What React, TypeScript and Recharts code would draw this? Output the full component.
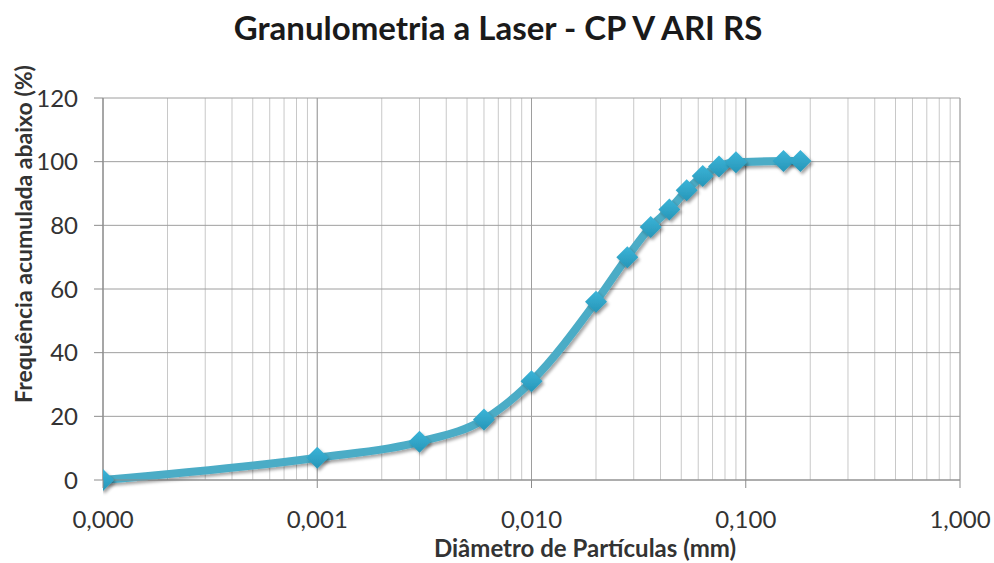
import React from 'react';
import {
  LineChart,
  Line,
  XAxis,
  YAxis,
  CartesianGrid,
  ReferenceLine,
  Label,
} from 'recharts';

const COLOR_LINE = '#4BACC6';
const COLOR_GRID_MINOR = '#C8C8C8';
const COLOR_GRID_MAJOR = '#9E9E9E';
const COLOR_AXIS = '#8C8C8C';
const COLOR_TEXT = '#333333';
const FONT = 'Lato, "Open Sans", sans-serif';

// particle diameter (mm) and cumulative passing (%)
const diameters = [
  0.0001, 0.001, 0.003, 0.006, 0.01, 0.02, 0.028, 0.036, 0.044, 0.053, 0.063,
  0.075, 0.09, 0.15, 0.18,
];
const cumulative = [0, 7, 12, 19, 31, 56, 70, 79.5, 85, 91, 95.5, 98.5, 99.8, 100.2, 100.2];

const decadeTicks = [0.0001, 0.001, 0.01, 0.1, 1];
const decadeLabels = ['0,000', '0,001', '0,010', '0,100', '1,000'];

// log grid (minor lines 2..9 in each decade)
const gridTicks = [
  0.0001, 0.0002, 0.0003, 0.0004, 0.0005, 0.0006, 0.0007, 0.0008, 0.0009,
  0.001, 0.002, 0.003, 0.004, 0.005, 0.006, 0.007, 0.008, 0.009,
  0.01, 0.02, 0.03, 0.04, 0.05, 0.06, 0.07, 0.08, 0.09,
  0.1, 0.2, 0.3, 0.4, 0.5, 0.6, 0.7, 0.8, 0.9,
  1,
];

const yTicks = [0, 20, 40, 60, 80, 100, 120];

const data = diameters.map((d, i) => ({ diameter: d, passing: cumulative[i] }));

function XTick(props: any) {
  const { x, y, payload } = props;
  const idx = decadeTicks.findIndex((t) => Math.abs(t - payload.value) < t * 1e-6);
  if (idx < 0) return <g />;
  return (
    <g>
      <line x1={x} y1={y} x2={x} y2={y + 8} stroke={COLOR_AXIS} strokeWidth={1} />
      <text
        x={x}
        y={y + 48}
        textAnchor="middle"
        fontSize={24}
        fontFamily={FONT}
        fill={COLOR_TEXT}
      >
        {decadeLabels[idx]}
      </text>
    </g>
  );
}

function DiamondDot(props: any) {
  const { cx, cy } = props;
  if (cx == null || cy == null) return <g />;
  const r = 11;
  return (
    <polygon
      points={`${cx},${cy - r} ${cx + r},${cy} ${cx},${cy + r} ${cx - r},${cy}`}
      fill="url(#markerFill)"
      filter="url(#dropShadow)"
    />
  );
}

export default function App() {
  return (
    <div style={{ position: 'absolute', left: 0, top: 0, width: 994, height: 563, background: '#fff' }}>
      <div
        style={{
          position: 'absolute',
          left: 0,
          top: 8,
          width: 996,
          textAlign: 'center',
          fontFamily: FONT,
          fontWeight: 700,
          fontSize: 33,
          lineHeight: 1.2,
          color: '#1a1a1a',
        }}
      >
        Granulometria a Laser - CP V ARI RS
      </div>
      <LineChart
        width={994}
        height={563}
        data={data}
        margin={{ top: 98, right: 34, bottom: 0, left: 40 }}
      >
        <defs>
          <filter id="dropShadow" x="-50%" y="-50%" width="200%" height="200%">
            <feDropShadow dx="2" dy="2.5" stdDeviation="1.5" floodColor="#000" floodOpacity="0.35" />
          </filter>
          <linearGradient id="markerFill" x1="0" y1="0" x2="0" y2="1">
            <stop offset="0%" stopColor="#3BB4D8" />
            <stop offset="100%" stopColor="#2796B8" />
          </linearGradient>
        </defs>
        <CartesianGrid stroke={COLOR_GRID_MINOR} horizontal={false} vertical={true} />
        {yTicks.map((t) => (
          <ReferenceLine key={`h${t}`} y={t} stroke={COLOR_GRID_MAJOR} strokeWidth={1} />
        ))}
        {decadeTicks.map((t) => (
          <ReferenceLine key={`v${t}`} x={t} stroke={COLOR_GRID_MAJOR} strokeWidth={1} />
        ))}
        <XAxis
          type="number"
          dataKey="diameter"
          scale="log"
          domain={[0.0001, 1]}
          ticks={gridTicks}
          interval={0}
          allowDataOverflow
          height={83}
          tickSize={0}
          tickMargin={0}
          tickLine={false}
          axisLine={{ stroke: COLOR_AXIS }}
          tick={(p: any) => <XTick {...p} />}
        >
          <Label
            content={() => (
              <text
                x={585}
                y={557}
                textAnchor="middle"
                fontFamily={FONT}
                fontWeight={700}
                fontSize={24}
                fill={COLOR_TEXT}
              >
                Diâmetro de Partículas (mm)
              </text>
            )}
          />
        </XAxis>
        <YAxis
          type="number"
          domain={[0, 120]}
          ticks={yTicks}
          interval={0}
          width={63}
          tickSize={9}
          tickMargin={16}
          tickLine={{ stroke: COLOR_AXIS }}
          axisLine={{ stroke: COLOR_AXIS }}
          tick={{ fontFamily: FONT, fontSize: 24, fill: COLOR_TEXT }}
        >
          <Label
            content={() => (
              <text
                x={32}
                y={234}
                transform="rotate(-90 32 234)"
                textAnchor="middle"
                fontFamily={FONT}
                fontWeight={700}
                fontSize={23}
                fill={COLOR_TEXT}
              >
                Frequência acumulada abaixo (%)
              </text>
            )}
          />
        </YAxis>
        <Line
          type="monotone"
          dataKey="passing"
          stroke={COLOR_LINE}
          strokeWidth={8}
          strokeLinecap="round"
          strokeLinejoin="round"
          dot={(p: any) => <DiamondDot key={`d${p.index}`} {...p} />}
          activeDot={false}
          isAnimationActive={false}
          style={{ filter: 'url(#dropShadow)' }}
        />
      </LineChart>
    </div>
  );
}
